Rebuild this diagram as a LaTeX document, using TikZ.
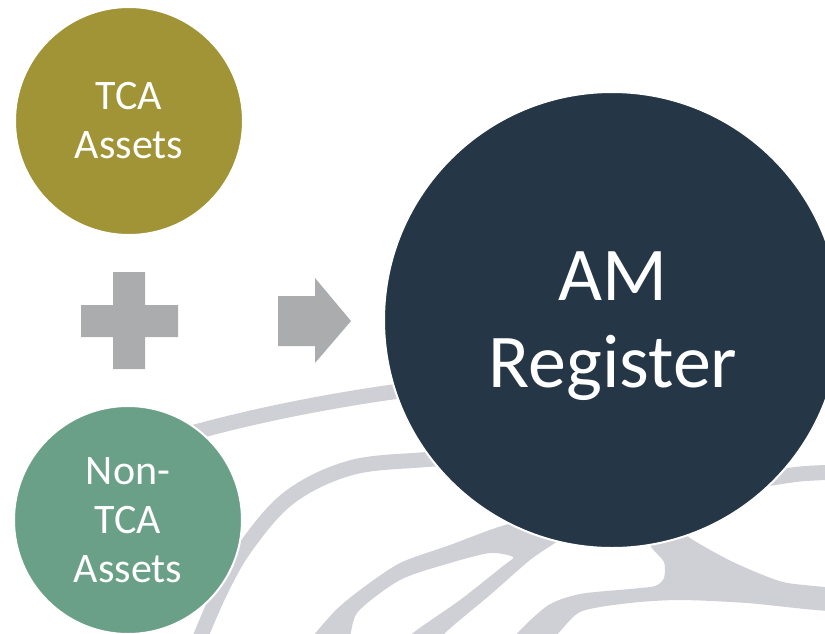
\documentclass[tikz,border=0pt]{standalone}
\usepackage{fontspec}
\setmainfont{Carlito}
\definecolor{tcaCol}{HTML}{A09436}
\definecolor{nonCol}{HTML}{6BA088}
\definecolor{amCol}{HTML}{253746}
\definecolor{signCol}{HTML}{ABACAE}
\definecolor{bandCol}{HTML}{CFD0D5}
\tikzset{
  bubble/.style={circle, draw=white, line width=2pt, inner sep=0pt, text=white, align=center},
  smallfont/.style={font=\fontsize{42}{49}\selectfont},
  bigfont/.style={font=\fontsize{76}{87}\selectfont},
  band/.style={draw=bandCol, line width=15pt, line cap=butt},
  bandfill/.style={fill=bandCol},
  sign/.style={fill=signCol}
}
\begin{document}
\begin{tikzpicture}[x=1pt,y=-1pt]
\useasboundingbox (0,0) rectangle (825,633);
\begin{scope}
\clip (0,0) rectangle (825,633);
% background bands
\draw[band] plot[smooth, tension=0.6] coordinates {(150,446) (195,432) (260,416) (330,402) (400,391) (440,388)};
\draw[band] plot[smooth, tension=0.6] coordinates {(470,458) (420,460) (350,468) (290,497) (247,545) (220,592) (195,650)};
\draw[band] plot[smooth, tension=0.6] coordinates {(760,480) (800,474) (840,472)};
% Y-shaped band
\fill[bandfill] plot[smooth cycle, tension=0.45] coordinates {
  (560,515) (505,525) (450,545) (400,563) (360,590) (333,613) (305,650)
  (345,650) (357,613) (400,580) (450,563) (490,553) (513,557)
  (503,566) (460,600) (413,633) (400,650)
  (435,650) (445,633) (490,595) (530,560) (555,543) (575,530)};
% right merged region
\fill[bandfill] plot[smooth cycle, tension=0.45] coordinates {
  (640,525) (652,548) (664,562) (664,578) (655,586) (630,589) (580,594) (547,606) (513,640)
  (550,640) (580,612) (630,603) (680,600) (747,603) (840,611)
  (840,590) (783,582) (733,562) (690,538) (670,520)};
% circles
\node[bubble, fill=amCol, minimum size=456pt] (am) at (612,320) {};
\node[text=white, align=center, inner sep=0pt, bigfont] (amtext) at (613,326) {AM\\Register};
\node[bubble, fill=tcaCol, minimum size=228pt, smallfont] (tca) at (129,121) {TCA\\Assets};
\node[bubble, fill=nonCol, minimum size=228pt, smallfont] (non) at (128,520) {Non-\\TCA\\Assets};
% plus sign
\fill[sign] (113,272) -- (145,272) -- (145,305) -- (178,305) -- (178,337) -- (145,337) -- (145,369) -- (113,369) -- (113,337) -- (81,337) -- (81,305) -- (113,305) -- cycle;
% arrow
\fill[sign] (278,296) -- (315,296) -- (315,278) -- (351,321) -- (315,363) -- (315,346) -- (278,346) -- cycle;
\end{scope}
\end{tikzpicture}
\end{document}
